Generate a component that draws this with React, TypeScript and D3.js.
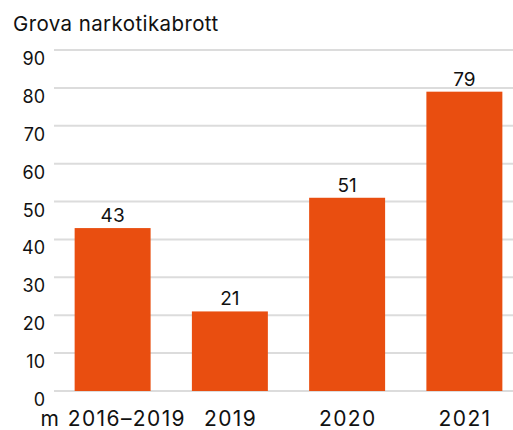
import React from "react";
import * as d3 from "d3";

const title = "Grova narkotikabrott";
const categories = ["m 2016–2019", "2019", "2020", "2021"];
const values = [43, 21, 51, 79];
const yTicks = [0, 10, 20, 30, 40, 50, 60, 70, 80, 90];

const W = 513;
const H = 430;
const FONT = "Inter, 'Noto Sans', sans-serif";

export default function App() {
  const y = d3.scaleLinear().domain([0, 90]).range([391, 50]);
  const x = d3
    .scaleBand<string>()
    .domain(categories)
    .range([54, 523])
    .paddingInner(0.352)
    .paddingOuter(0.176);

  return (
    <svg
      width={W}
      height={H}
      style={{ position: "absolute", left: 0, top: 0, background: "#fff" }}
      fontFamily={FONT}
    >
      <text x={13} y={31} fontSize={20.5} letterSpacing={0.4} fill="#111">
        {title}
      </text>
      {yTicks.map((t) => (
        <g key={t}>
          <line x1={54} x2={W} y1={y(t)} y2={y(t)} stroke="#dcdcdc" strokeWidth={2} />
          <text
            x={45}
            y={y(t) + 15}
            fontSize={18}
            textAnchor="end"
            fill="#111"
          >
            {t}
          </text>
        </g>
      ))}
      {categories.map((c, i) => (
        <g key={c}>
          <rect
            x={x(c)}
            y={y(values[i])}
            width={x.bandwidth()}
            height={y(0) - y(values[i])}
            fill="#E94E10"
          />
          <text
            x={(x(c) as number) + x.bandwidth() / 2}
            y={y(values[i]) - 6}
            fontSize={19}
            textAnchor="middle"
            fill="#111"
          >
            {values[i]}
          </text>
          <text
            x={(x(c) as number) + x.bandwidth() / 2 + 0.7}
            y={426}
            fontSize={21}
            letterSpacing={1.4}
            textAnchor="middle"
            fill="#111"
          >
            {c}
          </text>
        </g>
      ))}
    </svg>
  );
}
